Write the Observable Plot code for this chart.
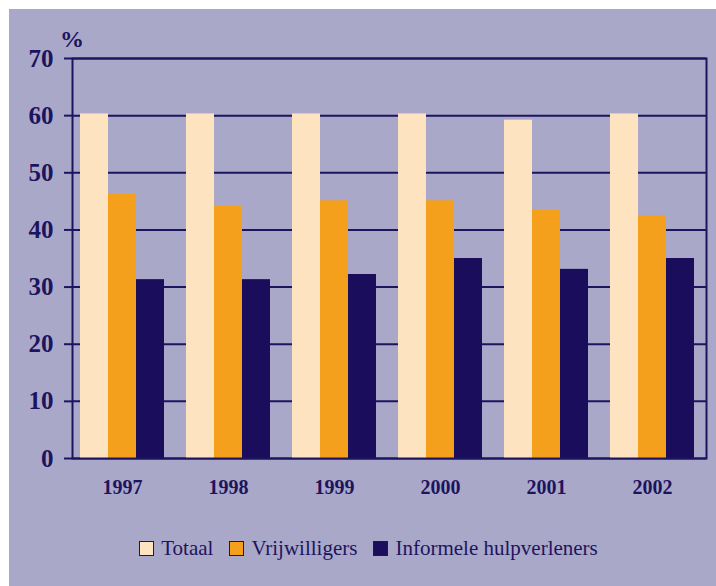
<!DOCTYPE html>
<html>
<head>
<meta charset="utf-8">
<script src="https://cdn.jsdelivr.net/npm/d3@7"></script>
<script src="https://cdn.jsdelivr.net/npm/@observablehq/plot@0.6"></script>
<style>
  html, body { margin: 0; padding: 0; background: #ffffff; }
  #panel {
    position: absolute; left: 9px; top: 9px; width: 707px; height: 577px;
    background: #aaa8c8; font-family: "Liberation Serif", serif; color: #1d1460;
  }
  #pct { position: absolute; left: 51px; top: 17px; font-family: "Liberation Serif", serif; font-size: 24px; font-weight: bold; color: #1d1460; }
  #chart { position: absolute; left: 0; top: 0; }
  #legend {
    position: absolute; top: 527px; left: 6px; width: 707px; display: flex; justify-content: center;
    font-family: "Liberation Serif", serif; font-size: 21px; color: #1d1460;
  }
  .item { display: flex; align-items: center; margin: 0 8px; }
  .sw { width: 13px; height: 13px; border: 1px solid #1d1460; margin-right: 7px; }
</style>
</head>
<body>
<div id="panel">
  <div id="pct">%</div>
  <div id="chart"></div>
  <div id="legend"></div>
</div>
<script>
const years = ["1997", "1998", "1999", "2000", "2001", "2002"];
const totaal = [60.3, 60.3, 60.3, 60.3, 59.2, 60.3];
const vrijwilligers = [46.2, 44.2, 45.1, 45.1, 43.4, 42.5];
const informele = [31.3, 31.3, 32.2, 35.0, 33.1, 35.0];
const seriesNames = ["Totaal", "Vrijwilligers", "Informele hulpverleners"];
const seriesColors = ["#fde3c0", "#f5a01d", "#1a0e5c"];
const yTicks = [0, 10, 20, 30, 40, 50, 60, 70];

const navy = "#1d1460";
const W = 707, ML = 63, MR = 10, MT = 49, MB = 52, H = MT + 400 + MB;
const xOpts = {type: "band", domain: years, paddingInner: 0.212, paddingOuter: 0.08, align: 0.4};
const xs = Plot.scale({x: {...xOpts, range: [ML, W - MR]}});
const bw = xs.bandwidth;

const seriesValues = [totaal, vrijwilligers, informele];
const barMarks = seriesValues.map((vals, i) =>
  Plot.barY(years.map((y, j) => ({year: y, value: vals[j]})), {
    x: "year", y: "value", fill: seriesColors[i],
    insetLeft: i * bw / 3, insetRight: (2 - i) * bw / 3
  })
);

const plot = Plot.plot({
  width: W, height: H,
  marginLeft: ML, marginRight: MR, marginTop: MT, marginBottom: MB,
  style: {background: "transparent", fontFamily: "'Liberation Serif', serif", color: navy, overflow: "visible"},
  x: {...xOpts, label: null, tickSize: 0},
  y: {domain: [0, 70], ticks: yTicks, label: null, tickSize: 0},
  marks: [
    Plot.ruleY(yTicks, {stroke: navy, strokeWidth: 2}),
    ...barMarks,
    Plot.frame({stroke: navy, strokeWidth: 2}),
    Plot.axisX({tickSize: 0, tickPadding: 21, fontSize: 20, fontWeight: "bold", fill: navy, label: null}),
    Plot.axisY({ticks: yTicks, tickSize: 8, tickPadding: 11, fontSize: 25, fontWeight: "bold", fill: navy, stroke: navy, strokeWidth: 2, label: null})
  ]
});
document.getElementById("chart").appendChild(plot);

const legend = document.getElementById("legend");
seriesNames.forEach((name, i) => {
  const item = document.createElement("div");
  item.className = "item";
  const sw = document.createElement("div");
  sw.className = "sw";
  sw.style.background = seriesColors[i];
  item.appendChild(sw);
  const t = document.createElement("span");
  t.textContent = name;
  item.appendChild(t);
  legend.appendChild(item);
});
</script>
</body>
</html>
